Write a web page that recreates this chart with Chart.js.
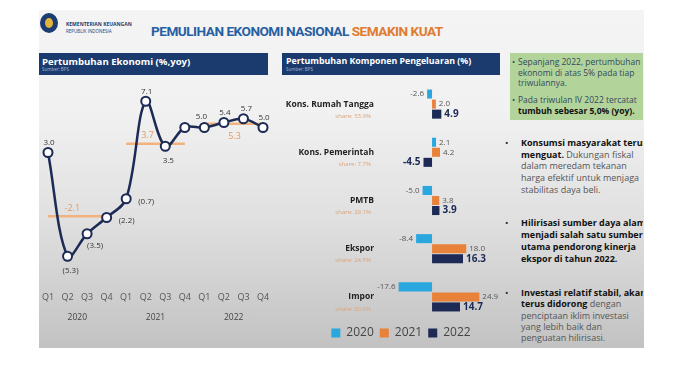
<!DOCTYPE html>
<html><head><meta charset="utf-8">
<script src="https://cdn.jsdelivr.net/npm/chart.js@4"></script>
<style>
html,body{margin:0;padding:0;background:#fff;}
body{width:700px;height:366px;position:relative;overflow:hidden;font-family:"Open Sans",sans-serif;}
#card{position:absolute;left:39px;top:10px;width:605px;height:338px;background:linear-gradient(180deg,#f4f4f4 0%,#f1f1f1 30%,#e0e0e0 62%,#c2c2c2 100%);}
.abs{position:absolute;white-space:nowrap;}
#logo{position:absolute;left:40px;top:13px;width:18px;height:20px;border-radius:50%;background:#1d3c72;}
#logo:after{content:"";position:absolute;left:5px;top:5px;width:8px;height:10px;border-radius:50%;background:#e2b43a;}
.hdr{position:absolute;background:#1b3a6d;color:#fff;}
.hdr .t{position:absolute;left:3px;top:3px;font-weight:700;font-size:9px;line-height:11px;white-space:nowrap;}
.hdr .s{position:absolute;left:3px;top:14px;font-size:4.5px;line-height:5px;color:#aab8d0;}
#green{position:absolute;left:510px;top:53px;width:133px;height:67px;background:#b2d49a;overflow:hidden;}
.gl{position:absolute;left:8px;font-size:8.5px;line-height:10.5px;color:#34485e;white-space:nowrap;}
#col{position:absolute;left:500px;top:125px;width:143px;height:223px;overflow:hidden;}
.cl{position:absolute;left:21px;font-size:9px;line-height:12px;color:#555;white-space:nowrap;}
.cl b{color:#111;}
.bul{position:absolute;left:5px;font-size:9px;line-height:12px;color:#222;}
canvas{position:absolute;}
</style></head>
<body>
<div id="card"></div>
<div id="logo"></div>
<div class="abs" style="left:66px;top:21px;font-size:5px;font-weight:700;color:#1d3c72;line-height:6px;">KEMENTERIAN KEUANGAN</div>
<div class="abs" style="left:66px;top:28px;font-size:4.5px;color:#1d3c72;line-height:6px;">REPUBLIK INDONESIA</div>
<div class="abs" style="left:151px;top:21px;font-family:Roboto,sans-serif;font-size:13.6px;font-weight:700;letter-spacing:-0.5px;line-height:20px;color:#2560a3;">PEMULIHAN EKONOMI NASIONAL <span style="color:#e07b30">SEMAKIN KUAT</span></div>

<div class="hdr" style="left:39px;top:53px;width:229px;height:22px;"><div class="t" style="font-size:9.6px;">Pertumbuhan Ekonomi (%,yoy)</div><div class="s">Sumber: BPS</div></div>
<div class="hdr" style="left:282px;top:53px;width:218px;height:22px;"><div class="t" style="font-size:8.8px;left:4px;">Pertumbuhan Komponen Pengeluaran (%)</div><div class="s" style="left:4px;">Sumber: BPS</div></div>

<div id="green">
 <div class="gl" style="left:2px;top:4px;">•</div>
 <div class="gl" style="top:4px;">Sepanjang 2022, pertumbuhan</div>
 <div class="gl" style="top:14.5px;">ekonomi di atas 5% pada tiap</div>
 <div class="gl" style="top:25px;">triwulannya.</div>
 <div class="gl" style="left:2px;top:42px;">•</div>
 <div class="gl" style="top:42px;">Pada triwulan IV 2022 tercatat</div>
 <div class="gl" style="top:52.5px;color:#111;font-weight:700;">tumbuh sebesar 5,0% (yoy).</div>
</div>

<div id="col">
 <div class="bul" style="top:12px;">•</div>
 <div class="cl" style="top:12px;"><b>Konsumsi masyarakat terus</b></div>
 <div class="cl" style="top:24px;"><b>menguat.</b> Dukungan fiskal</div>
 <div class="cl" style="top:35px;">dalam meredam tekanan</div>
 <div class="cl" style="top:47px;">harga efektif untuk menjaga</div>
 <div class="cl" style="top:59px;">stabilitas daya beli.</div>
 <div class="bul" style="top:92px;">•</div>
 <div class="cl" style="top:92px;"><b>Hilirisasi sumber daya alam</b></div>
 <div class="cl" style="top:104px;"><b>menjadi salah satu sumber</b></div>
 <div class="cl" style="top:116px;"><b>utama pendorong kinerja</b></div>
 <div class="cl" style="top:128px;"><b>ekspor di tahun 2022.</b></div>
 <div class="bul" style="top:162px;">•</div>
 <div class="cl" style="top:162px;"><b>Investasi relatif stabil, akan</b></div>
 <div class="cl" style="top:173px;"><b>terus didorong</b> dengan</div>
 <div class="cl" style="top:185px;">penciptaan iklim investasi</div>
 <div class="cl" style="top:196px;">yang lebih baik dan</div>
 <div class="cl" style="top:207px;">penguatan hilirisasi.</div>
</div>

<canvas id="lineC" width="235" height="270" style="left:39px;top:70px;width:235px;height:270px;"></canvas>
<canvas id="barC" width="238" height="275" style="left:282px;top:75px;width:238px;height:275px;"></canvas>

<script>
// ---- Data: economic growth (%, yoy) ----
const quarters = ['Q1','Q2','Q3','Q4','Q1','Q2','Q3','Q4','Q1','Q2','Q3','Q4'];
const years = ['2020','2021','2022'];
const growth = [3.0, -5.3, -3.5, -2.2, -0.7, 7.1, 3.5, 5.0, 5.0, 5.4, 5.7, 5.0];
const growthLabelShown = [true, true, true, true, true, true, true, false, true, true, true, true];
const yearlyAvg = [-2.1, 3.7, 5.3];

// ---- Data: expenditure components (%) ----
const components = ['Kons. Rumah Tangga', 'Kons. Pemerintah', 'PMTB', 'Ekspor', 'Impor'];
const shares = ['53.9%', '7.7%', '29.1%', '24.5%', '20.0%'];
const series2020 = [-2.6, 2.1, -5.0, -8.4, -17.6];
const series2021 = [2.0, 4.2, 3.8, 18.0, 24.9];
const series2022 = [4.9, -4.5, 3.9, 16.3, 14.7];
const seriesYears = ['2020', '2021', '2022'];

// styling (kept separate from data)
const labelPlace = ['above','below','belowRight','right','right','above','below','none','aboveL','above','aboveR','above'];
const placeOffset = {above:[1,-10], aboveL:[-3,-11], aboveR:[3,-10], below:[3,14], belowRight:[8,12], right:[20,3]};
const avgPlace = [[-5,-8],[-8,-8],[1,13]];
const NAVY = '#1c2a55', ORANGE = '#e8823a', BLUE = '#2aa7df', AVG = '#f2b27e';

Chart.defaults.font.family = '"Open Sans", sans-serif';

const fmt = v => v < 0 ? '(' + Math.abs(v).toFixed(1) + ')' : v.toFixed(1);

const avgDatasets = yearlyAvg.map((a, i) => ({
  data: quarters.map((q, j) => Math.floor(j / 4) === i ? a : null),
  borderColor: AVG, borderWidth: 2.5, pointRadius: 0, spanGaps: false, order: 2, tension: 0
}));

const lineLabels = {
  id: 'lineLabels',
  afterDatasetsDraw(chart) {
    const ctx = chart.ctx, xs = chart.scales.x, ys = chart.scales.y;
    ctx.save();
    ctx.textAlign = 'center'; ctx.textBaseline = 'middle';
    ctx.font = '8px "Open Sans"'; ctx.fillStyle = '#333';
    const meta = chart.getDatasetMeta(0);
    growth.forEach((v, i) => {
      if (!growthLabelShown[i]) return;
      const p = meta.data[i]; const o = placeOffset[labelPlace[i]];
      ctx.fillText(fmt(v), p.x + o[0], p.y + o[1]);
    });
    ctx.font = '9px "Open Sans"'; ctx.fillStyle = '#e39a63';
    yearlyAvg.forEach((a, i) => {
      const x = (xs.getPixelForValue(i * 4) + xs.getPixelForValue(i * 4 + 3)) / 2;
      ctx.fillText(a.toFixed(1), x + avgPlace[i][0], ys.getPixelForValue(a) + avgPlace[i][1]);
    });
    ctx.font = '8.5px "Open Sans"'; ctx.fillStyle = '#444';
    years.forEach((y, i) => {
      const x = (xs.getPixelForValue(i * 4 + 1) + xs.getPixelForValue(i * 4 + 2)) / 2;
      ctx.fillText(y, x, xs.bottom - 22);
    });
    ctx.restore();
  }
};

new Chart(document.getElementById('lineC'), {
  type: 'line',
  data: {
    labels: quarters,
    datasets: [{
      data: growth, borderColor: NAVY, borderWidth: 2.5, tension: 0.35,
      pointRadius: 4.5, pointBackgroundColor: '#fff', pointBorderColor: NAVY, pointBorderWidth: 2, order: 1
    }, ...avgDatasets]
  },
  options: {
    responsive: false, animation: false, clip: false,
    layout: { autoPadding: false, padding: { left: 9, right: 11, top: 12.5, bottom: 0 } },
    plugins: { legend: { display: false }, tooltip: { enabled: false } },
    scales: {
      x: {
        offset: false, grid: { display: false, drawTicks: false }, border: { display: false },
        ticks: { color: '#555', font: { size: 9 }, padding: 20, maxRotation: 0, autoSkip: false },
        afterFit: s => { s.height = 67.5; s.paddingLeft = 0; s.paddingRight = 0; }
      },
      y: { display: false, min: -6.6, max: 8.6 }
    }
  },
  plugins: [lineLabels]
});

const barLabels = {
  id: 'barLabels',
  afterDatasetsDraw(chart) {
    const ctx = chart.ctx, ys = chart.scales.y, ca = chart.chartArea;
    ctx.save();
    ctx.textBaseline = 'middle';
    chart.data.datasets.forEach((ds, di) => {
      const meta = chart.getDatasetMeta(di);
      ds.data.forEach((v, i) => {
        const b = meta.data[i];
        if (di === 2) { ctx.font = 'bold 10px "Open Sans"'; ctx.fillStyle = NAVY; }
        else { ctx.font = '8px "Open Sans"'; ctx.fillStyle = '#555'; }
        const neg = v < 0;
        ctx.textAlign = neg ? 'right' : 'left';
        const txt = (neg ? '-' : '') + Math.abs(v).toFixed(1);
        ctx.fillText(txt, b.x + (neg ? -3 : 3), b.y);
      });
    });
    components.forEach((c, i) => {
      const y = ys.getPixelForValue(i);
      ctx.textAlign = 'right';
      ctx.font = 'bold 8.5px "Open Sans"'; ctx.fillStyle = '#222';
      ctx.fillText(c, ca.left - 6, y);
      ctx.font = '6px "Open Sans"'; ctx.fillStyle = '#dba27a';
      ctx.fillText('share: ' + shares[i], ca.left - 9, y + 12);
    });
    ctx.restore();
  }
};

new Chart(document.getElementById('barC'), {
  type: 'bar',
  data: {
    labels: components,
    datasets: [
      { label: seriesYears[0], data: series2020, backgroundColor: BLUE },
      { label: seriesYears[1], data: series2021, backgroundColor: ORANGE },
      { label: seriesYears[2], data: series2022, backgroundColor: NAVY }
    ]
  },
  options: {
    indexAxis: 'y', responsive: false, animation: false,
    layout: { padding: { top: 5, bottom: 1 } },
    datasets: { bar: { categoryPercentage: 0.625, barPercentage: 0.9 } },
    plugins: {
      tooltip: { enabled: false },
      legend: {
        position: 'bottom',
        labels: { usePointStyle: true, pointStyle: 'rect', boxWidth: 9, boxHeight: 9, color: '#444', font: { size: 12 }, padding: 6 }
      }
    },
    scales: {
      x: { display: false, min: -27.4, max: 46.3 },
      y: { grid: { display: false, drawTicks: false }, border: { display: false }, ticks: { display: false },
           afterFit: s => { s.width = 98; } }
    }
  },
  plugins: [barLabels]
});
</script>
</body></html>
